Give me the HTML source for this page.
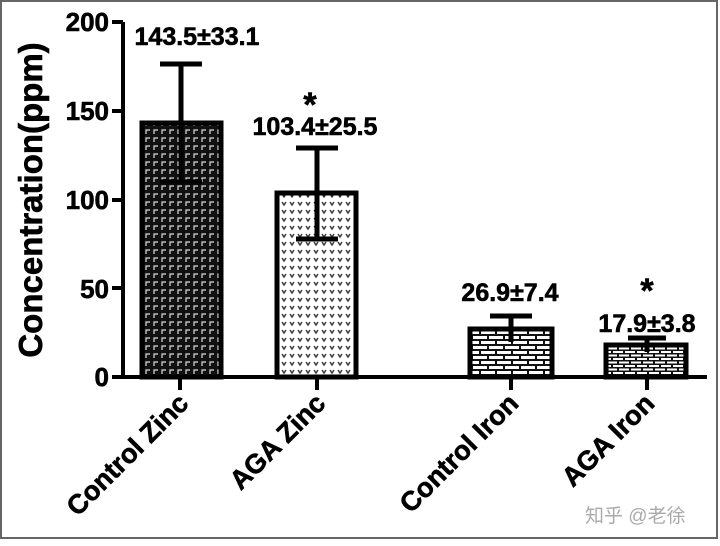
<!DOCTYPE html>
<html><head><style>html,body{margin:0;padding:0;background:#fff}</style></head><body>
<svg width="720" height="541" viewBox="0 0 720 541" xmlns="http://www.w3.org/2000/svg" font-family="Liberation Sans, sans-serif" font-weight="bold">
<defs>
<pattern id="p1" width="8" height="8" patternUnits="userSpaceOnUse"><rect width="8" height="8" fill="#111"/><path d="M2 6V2H6" stroke="#ddd" stroke-width="1.2" fill="none"/></pattern>
<pattern id="p2" width="8" height="8" patternUnits="userSpaceOnUse"><rect width="8" height="8" fill="#fff"/><path d="M2 2L4 5L6 2" stroke="#333" stroke-width="1.4" fill="none"/></pattern>
<pattern id="p3" width="16" height="10" patternUnits="userSpaceOnUse"><rect width="16" height="10" fill="#111"/><rect x="1" y="1" width="14" height="3" fill="#fff"/><rect x="-7" y="6" width="14" height="3" fill="#fff"/><rect x="9" y="6" width="14" height="3" fill="#fff"/></pattern>
<pattern id="p4" width="12" height="7" patternUnits="userSpaceOnUse"><rect width="12" height="7" fill="#111"/><rect x="1" y="1" width="10" height="2" fill="#fff"/><rect x="-5" y="4.5" width="10" height="2" fill="#fff"/><rect x="7" y="4.5" width="10" height="2" fill="#fff"/></pattern>
</defs>
<rect x="1" y="1" width="716" height="537" fill="none" stroke="#666" stroke-width="2"/>
<g stroke="#000" stroke-width="4" fill="none">
<path d="M123 22V377H707"/>
<path d="M112 22H123M112 111H123M112 200H123M112 288H123M112 377H123"/>
<path d="M180 377V390M317 377V390M511 377V390M647 377V390"/>
</g>
<g stroke="#000" stroke-width="5">
<rect x="142" y="123" width="79" height="254" fill="url(#p1)"/>
<rect x="277" y="193" width="79" height="184" fill="url(#p2)"/>
<rect x="470" y="329" width="82" height="48" fill="url(#p3)"/>
<rect x="606" y="345" width="80" height="32" fill="url(#p4)"/>
</g>
<g stroke="#000" stroke-width="5" fill="none">
<path d="M181 64V182M160 64H202M160 182H202"/>
<path d="M317 148V239M296 148H338M296 239H338"/>
<path d="M511 316V342M490 316H532"/>
<path d="M647 338V352M628 338H666"/>
</g>
<g stroke="#000" stroke-width="0.6">
<g font-size="26" text-anchor="end">
<text x="109" y="31">200</text><text x="109" y="120">150</text><text x="109" y="209">100</text><text x="109" y="298">50</text><text x="109" y="386">0</text>
</g>
<text transform="translate(42,200) rotate(-90)" font-size="33" text-anchor="middle">Concentration(ppm)</text>
<g font-size="25" text-anchor="middle">
<text x="197" y="45">143.5±33.1</text>
<text x="310" y="116" font-size="34">*</text>
<text x="315" y="135">103.4±25.5</text>
<text x="510" y="301">26.9±7.4</text>
<text x="647" y="302" font-size="34">*</text>
<text x="647" y="332">17.9±3.8</text>
</g>
<g font-size="27" text-anchor="end">
<text transform="translate(190,405) rotate(-45)">Control Zinc</text>
<text transform="translate(327,405) rotate(-45)">AGA Zinc</text>
<text transform="translate(520,405) rotate(-45)">Control Iron</text>
<text transform="translate(656,405) rotate(-45)">AGA Iron</text>
</g>
</g>
<text x="585" y="522" font-size="19" font-weight="normal" fill="#aaa" font-family="Liberation Sans, Noto Sans CJK SC, sans-serif">知乎 @老徐</text>
</svg>
</body></html>
